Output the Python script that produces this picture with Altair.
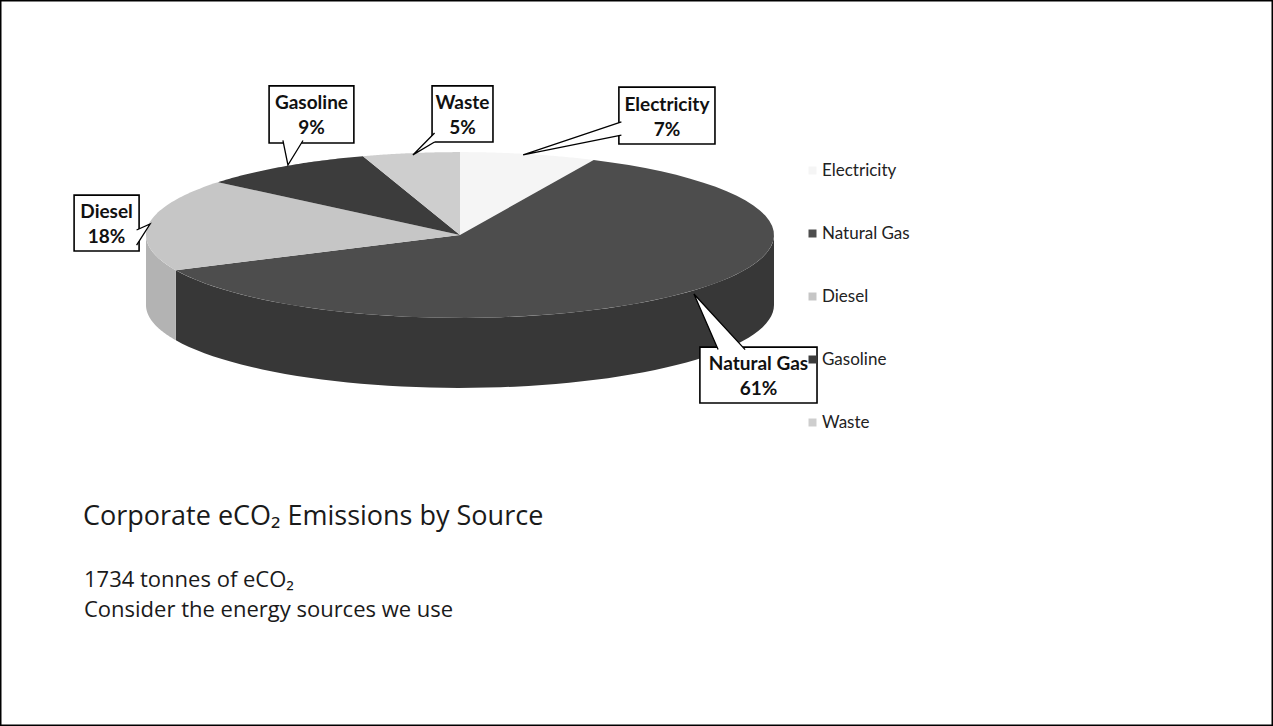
import altair as alt
import pandas as pd

# ---------------- data ----------------
categories = ["Electricity", "Natural Gas", "Diesel", "Gasoline", "Waste"]
percent = [7, 61, 18, 9, 5]
total_tonnes = 1734

top_colors = ["#f5f5f5", "#4d4d4d", "#c6c6c6", "#3c3c3c", "#cecece"]
side_colors = ["#e6e6e6", "#373737", "#b3b3b3", "#2e2e2e", "#bcbcbc"]

# callout annotations (chart units: 1 = horizontal pie radius)
call_name = ["Electricity", "Natural Gas", "Diesel", "Gasoline", "Waste"]
call_x1 = [0.506, 0.764, -1.229, -0.608, -0.089]
call_x2 = [0.812, 1.137, -1.022, -0.338, 0.105]
call_y1 = [0.290, -0.535, -0.051, 0.293, 0.296]
call_y2 = [0.471, -0.357, 0.127, 0.475, 0.475]
tip_x = [0.201, 0.745, -0.987, -0.548, -0.150]
tip_y = [0.255, -0.188, 0.035, 0.223, 0.255]
base_ax = [0.514, 0.822, -1.030, -0.564, -0.081]
base_ay = [0.360, -0.365, 0.016, 0.301, 0.325]
base_bx = [0.514, 0.908, -1.030, -0.500, -0.081]
base_by = [0.318, -0.365, -0.032, 0.301, 0.296]

# ---------------- layout ----------------
W, H = 1273, 726
CX, CY, R = 460, 235, 314          # pie centre / radius in pixels
TILT = 0.264                       # vertical squash of the pie top
DEPTH = 0.223                      # thickness of the pie
N = 60

xs = alt.Scale(domain=[(0 - CX) / R, (W - CX) / R], nice=False, zero=False)
ys = alt.Scale(domain=[(CY - H) / R, CY / R], nice=False, zero=False)

df = pd.DataFrame({"category": categories, "pct": percent,
                   "order": list(range(len(categories))), "side": side_colors})

base = alt.Chart(df).transform_window(
    cum="sum(pct)", sort=[alt.SortField("order")], frame=[None, 0]
).transform_calculate(
    a0="2*PI*(datum.cum - datum.pct)/100",
    a1="2*PI*datum.cum/100",
)

# side walls (front half only)
side = base.transform_calculate(
    s="max(datum.a0, PI/2)", e="min(datum.a1, 3*PI/2)"
).transform_filter("datum.s < datum.e").transform_calculate(
    idx=f"sequence(0, {2 * N + 2})"
).transform_flatten(["idx"]).transform_calculate(
    t=f"datum.idx <= {N} ? datum.idx/{N} : 1 - (datum.idx-{N + 1})/{N}",
).transform_calculate(
    ang="datum.s + (datum.e - datum.s)*datum.t",
).transform_calculate(
    px="sin(datum.ang)",
    py=f"{TILT}*cos(datum.ang) - (datum.idx <= {N} ? 0 : {DEPTH})",
).mark_line(filled=True, interpolate="linear-closed", strokeWidth=0).encode(
    x=alt.X("px:Q", scale=xs, axis=None),
    y=alt.Y("py:Q", scale=ys, axis=None),
    fill=alt.Fill("side:N", scale=None),
    detail="category:N",
    order="idx:Q",
)

# top surface
top = base.transform_calculate(
    idx=f"sequence(0, {N + 2})"
).transform_flatten(["idx"]).transform_calculate(
    ang=f"datum.a0 + (datum.a1 - datum.a0)*max(datum.idx - 1, 0)/{N}",
).transform_calculate(
    px="datum.idx == 0 ? 0 : sin(datum.ang)",
    py=f"datum.idx == 0 ? 0 : {TILT}*cos(datum.ang)",
).mark_line(filled=True, interpolate="linear-closed", strokeWidth=0).encode(
    x=alt.X("px:Q", scale=xs, axis=None),
    y=alt.Y("py:Q", scale=ys, axis=None),
    color=alt.Color(
        "category:N",
        scale=alt.Scale(domain=categories, range=top_colors),
        legend=alt.Legend(
            title=None, orient="none", legendX=804, legendY=162,
            symbolType="square", symbolSize=64, symbolStrokeWidth=0,
            labelFont="Lato", labelFontSize=17, labelColor="#222222",
            labelOffset=1, rowPadding=45, padding=0,
        ),
    ),
    detail="category:N",
    order="idx:Q",
)

# callouts
cdf = pd.DataFrame({
    "name": call_name, "x1": call_x1, "x2": call_x2, "y1": call_y1, "y2": call_y2,
})
cdf["pct"] = [f"{percent[categories.index(n)]}%" for n in call_name]
cdf["xc"] = (cdf["x1"] + cdf["x2"]) / 2
cdf["yc"] = (cdf["y1"] + cdf["y2"]) / 2

tri_rows = []
for i, n in enumerate(call_name):
    tri_rows.append({"name": n, "k": 0, "x": base_ax[i], "y": base_ay[i]})
    tri_rows.append({"name": n, "k": 1, "x": tip_x[i], "y": tip_y[i]})
    tri_rows.append({"name": n, "k": 2, "x": base_bx[i], "y": base_by[i]})
tdf = pd.DataFrame(tri_rows)

boxes = alt.Chart(cdf).mark_rect(fill="white", stroke="black", strokeWidth=1.6).encode(
    x=alt.X("x1:Q", scale=xs, axis=None), x2="x2:Q",
    y=alt.Y("y1:Q", scale=ys, axis=None), y2="y2:Q",
)

pointers = alt.Chart(tdf).mark_line(
    filled=True, fill="white", stroke="black", strokeWidth=1.3,
    interpolate="linear",
).encode(
    x=alt.X("x:Q", scale=xs, axis=None),
    y=alt.Y("y:Q", scale=ys, axis=None),
    detail="name:N",
    order="k:Q",
)

label_font = dict(font="Lato", fontWeight="bold", fontSize=19, color="#111111",
                  align="center", baseline="middle")
names = alt.Chart(cdf).mark_text(dy=-11, **label_font).encode(
    x=alt.X("xc:Q", scale=xs, axis=None),
    y=alt.Y("yc:Q", scale=ys, axis=None),
    text="name:N",
)
pcts = alt.Chart(cdf).mark_text(dy=14, **label_font).encode(
    x=alt.X("xc:Q", scale=xs, axis=None),
    y=alt.Y("yc:Q", scale=ys, axis=None),
    text="pct:N",
)

# slide texts
title_lines = ["Corporate eCO\u2082 Emissions by Source"]
sub_lines = [f"{total_tonnes} tonnes of eCO\u2082", "Consider the energy sources we use"]

title = alt.Chart(pd.DataFrame({"t": title_lines})).mark_text(
    align="left", baseline="alphabetic", font="Open Sans", fontSize=27, color="#1a1a1a"
).encode(x=alt.value(83), y=alt.value(525), text="t:N")

sub1 = alt.Chart(pd.DataFrame({"t": sub_lines[:1]})).mark_text(
    align="left", baseline="alphabetic", font="Open Sans", fontSize=22, color="#1a1a1a"
).encode(x=alt.value(84), y=alt.value(587), text="t:N")
sub2 = alt.Chart(pd.DataFrame({"t": sub_lines[1:]})).mark_text(
    align="left", baseline="alphabetic", font="Open Sans", fontSize=22, color="#1a1a1a"
).encode(x=alt.value(84), y=alt.value(617), text="t:N")

chart = alt.layer(side, top, boxes, pointers, names, pcts, title, sub1, sub2).properties(
    width=W, height=H, padding=0,
    autosize=alt.AutoSizeParams(type="fit", contains="padding"),
    background="white",
).configure_view(stroke="black", strokeWidth=3)

chart.save("out.html", embed_options={"renderer": "svg", "actions": False})
